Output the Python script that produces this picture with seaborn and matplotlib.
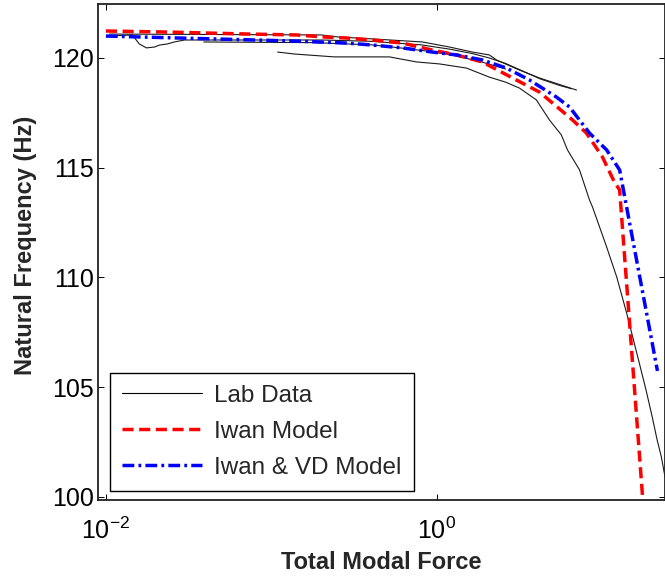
import seaborn as sns
import matplotlib.pyplot as plt
from matplotlib.lines import Line2D
from matplotlib.ticker import NullLocator, LogFormatterMathtext

# lab runs (total modal force, natural frequency in Hz)
lab1_force = [0.0105, 0.2, 0.25, 0.407, 0.817, 1.19, 1.64, 2.07, 2.29, 3.15, 4.16, 6.97]
lab1_freq = [121.09, 121.05, 120.96, 120.87, 120.73, 120.5, 120.27, 120.14, 119.91, 119.45, 119.09, 118.54]

lab2_force = [0.0105, 0.01445, 0.0159, 0.01757, 0.01965, 0.0211, 0.0235, 0.0259, 0.0298, 0.1, 0.2,
              0.4, 0.8, 1.2, 1.64, 2.07, 2.6, 3.2, 4.2, 5.5, 6.5]
lab2_freq = [121.0, 121.05, 120.64, 120.46, 120.5, 120.59, 120.64, 120.73, 120.82, 120.82, 120.82,
             120.76, 120.6, 120.4, 120.2, 120.0, 119.75, 119.45, 119.05, 118.75, 118.6]

lab3_force = [0.039, 0.18, 0.4, 0.6, 0.9, 1.3, 1.9, 2.6]
lab3_freq = [120.73, 120.7, 120.6, 120.46, 120.3, 120.1, 119.8, 119.5]

lab4_force = [0.109, 0.138, 0.24, 0.517, 0.752, 1.035, 1.51, 2.07, 2.6, 3.15, 3.99, 4.78, 5.65, 6.15,
              7.27, 8.35, 8.71, 10.6, 12.2, 14.0, 16.7, 18.3, 20.0, 21.4, 22.7, 23.9]
lab4_freq = [120.27, 120.18, 120.05, 120.05, 119.82, 119.73, 119.54, 119.13, 118.9, 118.63, 118.09,
             117.18, 116.49, 115.81, 114.9, 113.53, 113.21, 111.39, 110.02, 108.38, 106.1, 104.9,
             103.64, 102.6, 101.82, 100.9]

iwan_force = [0.01, 0.0242, 0.0736, 0.1416, 0.203, 0.284, 0.407, 0.618, 0.938, 1.31, 1.88, 2.86,
              4.16, 4.99, 6.59, 8.0, 10.0, 11.8, 12.7, 17.6]
iwan_freq = [121.23, 121.18, 121.09, 121.05, 120.96, 120.91, 120.82, 120.68, 120.36, 120.14, 119.82,
             119.09, 118.45, 117.95, 117.18, 116.58, 115.49, 114.35, 113.99, 99.7]

iwan_vd_force = [0.01, 0.0278, 0.1416, 0.284, 0.407, 0.618, 0.938, 1.31, 1.88, 2.63, 3.62, 5.27,
                 6.32, 8.35, 10.6, 12.7, 21.5]
iwan_vd_freq = [121.0, 120.91, 120.77, 120.68, 120.59, 120.46, 120.27, 120.14, 119.91, 119.54, 119.0,
                118.22, 117.77, 116.58, 115.81, 114.9, 105.74]

legend_labels = ['Lab Data', 'Iwan Model', 'Iwan & VD Model']

sns.set_style("ticks")
plt.rcParams['font.family'] = ['Liberation Sans', 'DejaVu Sans']
plt.rcParams['mathtext.default'] = 'regular'

fig = plt.figure(figsize=(6.65, 5.76), dpi=100)
ax = fig.add_axes([98 / 665, 1 - 500 / 576, 567 / 665, 496 / 576])

lab_runs = [(lab1_force, lab1_freq), (lab2_force, lab2_freq),
            (lab3_force, lab3_freq), (lab4_force, lab4_freq)]
for f, fr in lab_runs:
    sns.lineplot(x=f, y=fr, ax=ax, color='#1a1a1a', linewidth=0.8, sort=False, estimator=None)

sns.lineplot(x=iwan_force, y=iwan_freq, ax=ax, color='red', linewidth=2.5, sort=False, estimator=None)
ax.lines[-1].set_dashes((3.2, 1.6))
sns.lineplot(x=iwan_vd_force, y=iwan_vd_freq, ax=ax, color='blue', linewidth=2.5, sort=False, estimator=None)
ax.lines[-1].set_dashes((3.4, 1.2, 0.8, 1.2))

ax.set_xscale('log')
ax.set_xlim(10 ** -2.048, 10 ** 1.378)
ax.set_ylim(99.86, 122.46)
ax.set_xticks([1e-2, 1e0])
ax.xaxis.set_major_formatter(LogFormatterMathtext())
ax.xaxis.set_minor_locator(NullLocator())
ax.set_yticks([100, 105, 110, 115, 120])

ax.tick_params(direction='in', top=True, right=True, length=4, width=0.7,
               labelsize=18, colors='black')
ax.tick_params(axis='x', pad=13)
ax.tick_params(axis='y', pad=3)
for s in ax.spines.values():
    s.set_linewidth(1.3)
    s.set_color('#222222')

lab_font = dict(fontsize=17, fontweight='bold')
ax.set_xlabel('Total Modal Force', **lab_font)
ax.set_ylabel('Natural Frequency (Hz)', **lab_font)
ax.xaxis.set_label_coords(0.5, -0.103)
ax.yaxis.set_label_coords(-0.108, 0.514)

handles = [
    Line2D([], [], color='black', linewidth=0.8),
    Line2D([], [], color='red', linewidth=2.5, dashes=(3.2, 1.6)),
    Line2D([], [], color='blue', linewidth=2.5, dashes=(3.4, 1.2, 0.8, 1.2)),
]
leg = ax.legend(handles, legend_labels, loc='lower left', bbox_to_anchor=(0.021, 0.018),
                borderaxespad=0, fontsize=17.5, handlelength=3.3, handletextpad=0.5,
                labelspacing=0.58, borderpad=0.5, fancybox=False, framealpha=1)
leg.get_frame().set_edgecolor('black')
leg.get_frame().set_linewidth(1.0)

plt.savefig('out.png', dpi=100)
plt.close()
